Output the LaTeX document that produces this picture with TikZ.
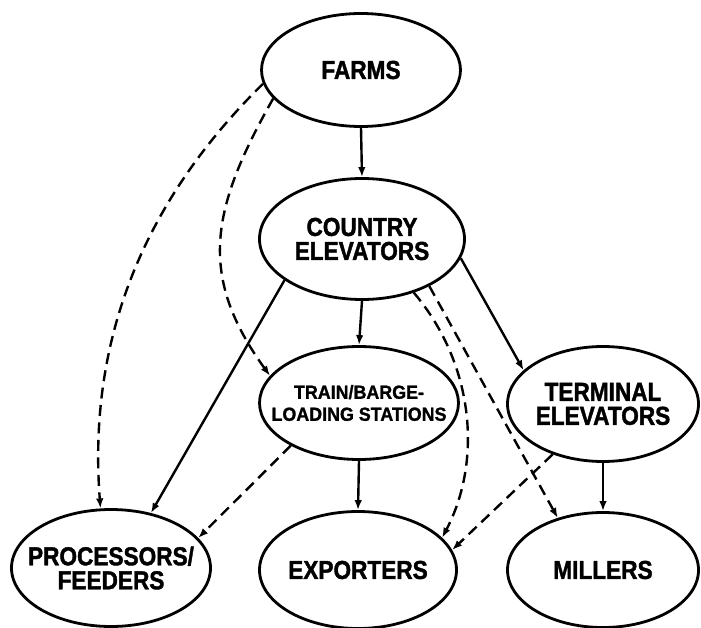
\documentclass[tikz,border=0pt]{standalone}
\usepackage{fontspec}
\usetikzlibrary{shapes.geometric,arrows.meta}
\newfontfamily\labelfont{Liberation Sans}[FakeStretch=0.87,BoldFeatures={FakeBold=1.5}]
\newfontfamily\smallfont{Liberation Sans}[FakeStretch=0.94,BoldFeatures={FakeBold=1.2}]

\tikzset{
  stage/.style={ellipse, draw, line width=2.8pt, inner sep=0pt},
  stagetext/.style={align=center, inner sep=0pt,
    font=\labelfont\bfseries\fontsize{26}{24}\selectfont},
  smalltext/.style={stagetext, font=\smallfont\bfseries\fontsize{19}{22}\selectfont},
  flow/.style={line width=2.4pt, -{Latex[length=10pt,width=7.5pt]}},
  sideflow/.style={flow, dash pattern=on 11pt off 6.5pt}
}

\begin{document}
\begin{tikzpicture}[x=1pt,y=-1pt]
\useasboundingbox (0,0) rectangle (701,628);

% marketing stages (outline sized independently of the caption)
\node[stage, minimum width=199pt, minimum height=113pt,
  label={[stagetext]center:FARMS}] (farms) at (361,70) {};
\node[stage, minimum width=205pt, minimum height=121pt,
  label={[stagetext]center:COUNTRY\\ELEVATORS}] (country) at (362,239) {};
\node[stage, minimum width=199pt, minimum height=113pt,
  label={[smalltext]center:TRAIN/BARGE-\\LOADING STATIONS}] (train) at (359,403) {};
\node[stage, minimum width=191pt, minimum height=115pt,
  label={[stagetext]center:TERMINAL\\ELEVATORS}] (terminal) at (603,404) {};
\node[stage, minimum width=199pt, minimum height=117pt,
  label={[stagetext]center:PROCESSORS/\\FEEDERS}] (proc) at (111,568) {};
\node[stage, minimum width=197pt, minimum height=117pt,
  label={[stagetext]center:EXPORTERS}] (exp) at (358,570) {};
\node[stage, minimum width=191pt, minimum height=115pt,
  label={[stagetext]center:MILLERS}] (mill) at (603,570) {};

% main flows
\draw[flow] (farms.south) -- (country.north);
\draw[flow] (country.south) -- (train.north);
\draw[flow] (country.208) -- (proc.54);
\draw[flow] (country.-11) -- (terminal.157);
\draw[flow] (train.south) -- (exp.north);
\draw[flow] (terminal.south) -- (mill.north);

% direct shipments
\draw[sideflow] (farms.188.6) .. controls (160,185) and (86,320) .. (proc.100);
\draw[sideflow] (farms.198.6) .. controls (210,210) and (198,276) .. (train.163.5);
\draw[sideflow] (country.-46.7) .. controls (475,365) and (482,462) .. (exp.21);
\draw[sideflow] (country.-35.3) -- (mill.131.6);
\draw[sideflow] (train.212) -- (proc.19.8);
\draw[sideflow] (terminal.225.5) -- (exp.12.4);
\end{tikzpicture}
\end{document}
